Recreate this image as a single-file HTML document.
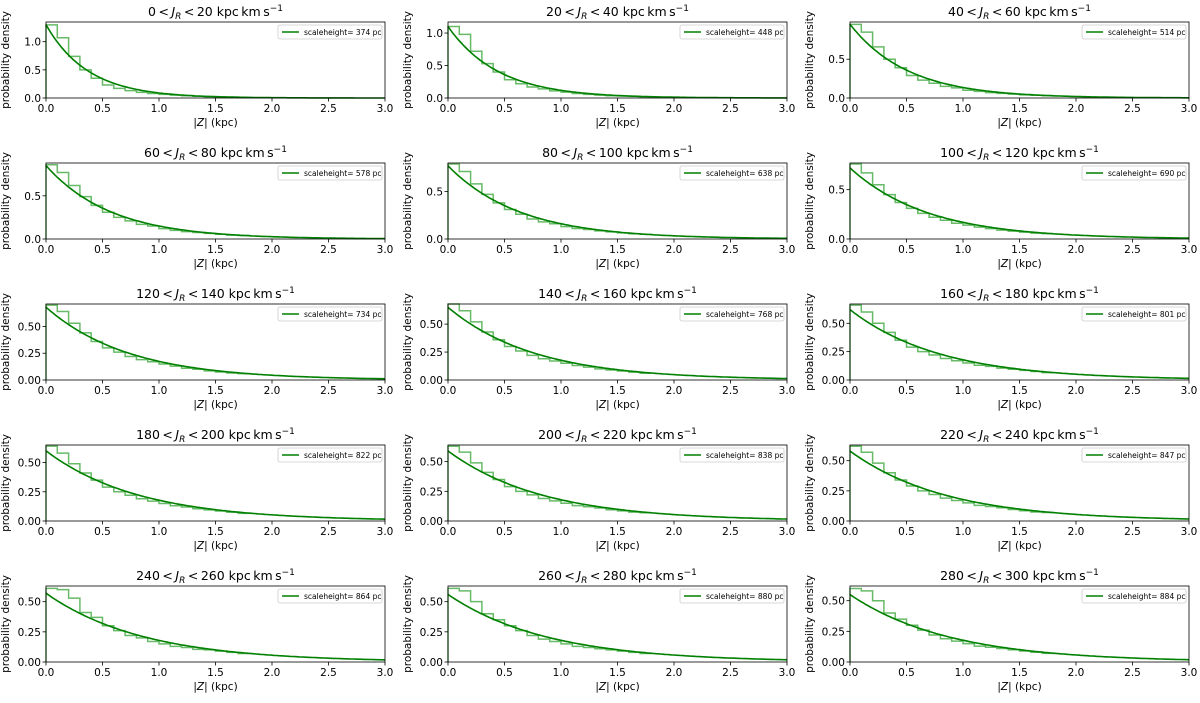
<!DOCTYPE html>
<html><head><meta charset="utf-8"><style>
body{margin:0;background:#fff;}
svg text{font-family:"DejaVu Sans","Liberation Sans",sans-serif;fill:#000;}
</style></head><body>
<svg id="fig" width="1200" height="698" xmlns="http://www.w3.org/2000/svg"></svg>
<script>
const lowBounds=[0,20,40,60,80,100,120,140,160,180,200,220,240,260,280];
const scaleHeights=[374,448,514,578,638,690,734,768,801,822,838,847,864,880,884];
const curvePeaks=[1.3,1.1,0.95,0.85,0.77,0.72,0.68,0.65,0.62,0.6,0.59,0.58,0.57,0.56,0.55];
const yMaxes=[1.35,1.17,0.98,0.88,0.8,0.77,0.71,0.68,0.67,0.65,0.64,0.63,0.63,0.63,0.62];
const yTickSets=[[0,0.5,1.0],[0,0.5,1.0],[0,0.5],[0,0.5],[0,0.5],[0,0.5],[0,0.25,0.5],[0,0.25,0.5],[0,0.25,0.5],[0,0.25,0.5],[0,0.25,0.5],[0,0.25,0.5],[0,0.25,0.5],[0,0.25,0.5],[0,0.25,0.5]];
const xTicks=[0,0.5,1.0,1.5,2.0,2.5,3.0];
const binWidth=0.1;
const hists=[
[1.30,1.07,0.74,0.50,0.35,0.23,0.17,0.13,0.10,0.08,0.065,0.05,0.04,0.03,0.025,0.02,0.015,0.012],
[1.10,0.98,0.72,0.53,0.40,0.28,0.22,0.17,0.14,0.11,0.09,0.07,0.055,0.045,0.035,0.03,0.025,0.02],
[0.95,0.85,0.66,0.50,0.39,0.29,0.23,0.19,0.15,0.13,0.10,0.085,0.07,0.06,0.05,0.04,0.035,0.03],
[0.86,0.77,0.62,0.49,0.39,0.31,0.25,0.21,0.17,0.15,0.12,0.10,0.085,0.075,0.065,0.055,0.045,0.04],
[0.79,0.71,0.58,0.47,0.38,0.31,0.26,0.21,0.18,0.16,0.13,0.11,0.10,0.085,0.075,0.065,0.055,0.05],
[0.76,0.67,0.55,0.45,0.37,0.31,0.26,0.22,0.19,0.16,0.14,0.12,0.105,0.09,0.08,0.07,0.06,0.055],
[0.70,0.64,0.53,0.44,0.36,0.30,0.26,0.22,0.19,0.17,0.15,0.13,0.11,0.10,0.085,0.075,0.065,0.06],
[0.68,0.62,0.52,0.43,0.36,0.30,0.26,0.22,0.19,0.17,0.15,0.13,0.115,0.10,0.09,0.08,0.07,0.06],
[0.66,0.60,0.50,0.42,0.35,0.29,0.25,0.22,0.19,0.17,0.15,0.13,0.12,0.105,0.095,0.085,0.075,0.065],
[0.64,0.58,0.49,0.41,0.35,0.29,0.25,0.22,0.19,0.17,0.15,0.13,0.12,0.105,0.095,0.085,0.075,0.065],
[0.63,0.58,0.49,0.41,0.35,0.29,0.25,0.22,0.19,0.17,0.15,0.13,0.12,0.11,0.095,0.085,0.075,0.07],
[0.62,0.57,0.48,0.40,0.34,0.29,0.25,0.22,0.19,0.17,0.15,0.13,0.12,0.11,0.095,0.085,0.075,0.07],
[0.61,0.60,0.53,0.41,0.37,0.30,0.26,0.22,0.20,0.17,0.15,0.13,0.12,0.105,0.10,0.09,0.08,0.07],
[0.61,0.59,0.50,0.40,0.35,0.30,0.26,0.22,0.19,0.17,0.15,0.13,0.12,0.11,0.10,0.09,0.08,0.07],
[0.60,0.58,0.50,0.40,0.35,0.30,0.26,0.22,0.19,0.17,0.15,0.13,0.12,0.11,0.10,0.09,0.08,0.07]];

const NS="http://www.w3.org/2000/svg";
const svg=document.getElementById('fig');
function mk(tag,attrs,parent){const e=document.createElementNS(NS,tag);for(const k in attrs)e.setAttribute(k,attrs[k]);(parent||svg).appendChild(e);return e;}
const colLeft=[46,448,850],W=339,rowBottom=[98,239,380,521,662],H=76;
function fmt(v,two){return two?v.toFixed(2):v.toFixed(1);}
for(let p=0;p<15;p++){
  const L=colLeft[p%3],B=rowBottom[Math.floor(p/3)],T=B-H;
  const g=mk('g',{});
  
  
  const xs=v=>L+v/3*W, ys=v=>B-v/yMaxes[p]*H;
  const t=mk('text',{x:L+W/2,y:T-6,'text-anchor':'middle','font-size':'12.5'},g);
  
  
  t.innerHTML=lowBounds[p]+'&#8201;&lt;&#8201;<tspan font-style="italic">J</tspan><tspan font-size="9" font-style="italic" dy="3">R</tspan><tspan dy="-3">&#8201;&lt;&#8201;'+(lowBounds[p]+20)+' kpc&#8201;km&#8201;s</tspan><tspan font-size="9" dy="-5">−1</tspan>';
  const h=hists[p];let d='M'+xs(0)+','+B;
  for(let i=0;i<h.length;i++){d+=' L'+xs(i*binWidth)+','+ys(h[i])+' L'+xs((i+1)*binWidth)+','+ys(h[i]);}
  const hp=mk('path',{d:d,fill:'none',stroke:'#4cae4c','stroke-width':'1.5','stroke-opacity':'0.85'},g);
  
  
  const hk=scaleHeights[p]/1000;let pts=[];
  for(let k=0;k<=150;k++){const z=k*0.02;pts.push(xs(z).toFixed(1)+','+ys(curvePeaks[p]*Math.exp(-z/hk)).toFixed(1));}
  const cp=mk('polyline',{points:pts.join(' '),fill:'none',stroke:'#008000','stroke-width':'1.6'},g);
  
  
  const fr=mk('rect',{x:L,y:T,width:W,height:H,fill:'none',stroke:'#000','stroke-width':'0.8'},g);
  
  
  xTicks.forEach(v=>{mk('line',{x1:xs(v),x2:xs(v),y1:B,y2:B+3.5,stroke:'#000','stroke-width':'0.8'},g);
    const tl=mk('text',{x:xs(v),y:B+14,'text-anchor':'middle','font-size':'10.5'},g);
    
    
    tl.textContent=fmt(v,false);});
  const two=yTickSets[p].includes(0.25);
  yTickSets[p].forEach(v=>{mk('line',{x1:L-3.5,x2:L,y1:ys(v),y2:ys(v),stroke:'#000','stroke-width':'0.8'},g);
    const tl=mk('text',{x:L-5,y:ys(v)+4,'text-anchor':'end','font-size':'10.5'},g);
    
    
    tl.textContent=fmt(v,two);});
  const xl=mk('text',{x:L+W/2,y:B+28,'text-anchor':'middle','font-size':'10.5'},g);
  
  
  xl.innerHTML='|<tspan font-style="italic">Z</tspan>| (kpc)';
  const yl=mk('text',{x:0,y:0,'text-anchor':'middle','font-size':'10.5',transform:'translate('+(L-37)+','+(T+H/2)+') rotate(-90)'},g);
  
  
  yl.textContent='probability density';
  const lg=mk('g',{},g);
  
  
  mk('rect',{x:L+W-107,y:T+3,width:104,height:14,fill:'#fff','fill-opacity':'0.8',stroke:'#ccc','stroke-width':'0.8',rx:'2'},lg);
  mk('line',{x1:L+W-103,x2:L+W-86,y1:T+10,y2:T+10,stroke:'#008000','stroke-width':'1.6'},lg);
  const lt=mk('text',{x:L+W-81,y:T+13,'font-size':'7.5'},lg);
  
  
  lt.textContent='scaleheight= '+scaleHeights[p]+' pc';
}
</script>
</body></html>
